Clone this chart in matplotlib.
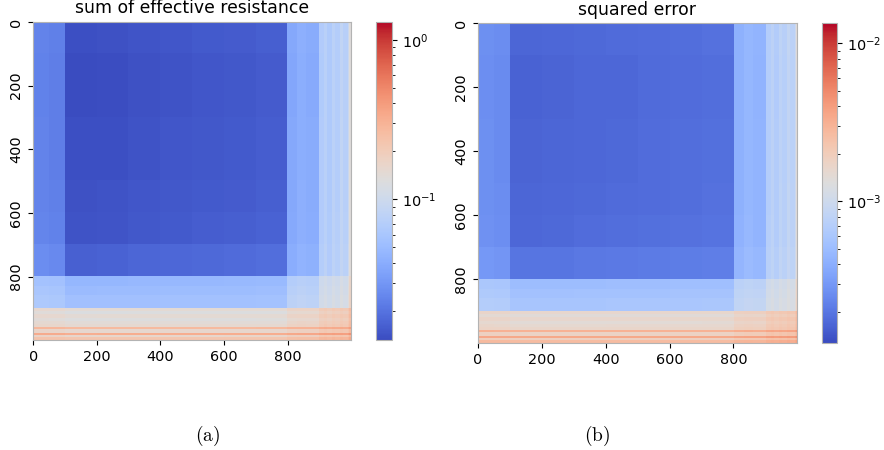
import matplotlib
matplotlib.use("Agg")
import matplotlib.pyplot as plt
import numpy as np
from matplotlib.colors import LogNorm

plt.rcParams['mathtext.fontset'] = 'cm'

# row / column block edges (index) and block values
row_edges = [0, 100, 300, 500, 600, 700, 800, 830, 860, 900, 910, 920, 930, 940, 950,
             960, 966, 978, 985, 992, 1000]
col_edges = [0, 50, 100, 200, 300, 400, 500, 600, 700, 800, 830, 860, 900, 915, 925,
             940, 950, 965, 975, 990, 995, 1000]

# (a) sum of effective resistance
res_rows = [0.0035, 0.003, 0.0033, 0.0036, 0.004, 0.0062, 0.036, 0.040, 0.044,
            0.135, 0.115, 0.135, 0.118, 0.13, 0.14, 0.26, 0.145, 0.31, 0.15, 0.21]
res_cols = [0.0205, 0.0195, 0.0103, 0.0105, 0.011, 0.0113, 0.0117, 0.012, 0.0126,
            0.034, 0.038, 0.036, 0.064, 0.072, 0.062, 0.074, 0.067, 0.080, 0.071,
            0.092, 0.130]
res_lim = [0.0131, 1.30]

# (b) squared error
err_rows = [0.00004, 0.000035, 0.000038, 0.00004, 0.000045, 0.00007, 0.00038,
            0.00042, 0.00046, 0.00145, 0.00125, 0.00145, 0.00128, 0.0014, 0.0015,
            0.0029, 0.0016, 0.0033, 0.0017, 0.0025]
err_cols = [0.00023, 0.00022, 0.000128, 0.00013, 0.000135, 0.000138, 0.000142,
            0.000146, 0.00015, 0.00038, 0.00042, 0.0004, 0.00066, 0.00074, 0.00064,
            0.00076, 0.00069, 0.00082, 0.00073, 0.00095, 0.00135]
err_lim = [0.000127, 0.0134]

titles = ["sum of effective resistance", "squared error"]
captions = ["(a)", "(b)"]


def grid(rows, cols):
    r = np.repeat(rows, np.diff(row_edges))
    c = np.repeat(cols, np.diff(col_edges))
    return r[:, None] + c[None, :]


fig = plt.figure(figsize=(8.84, 4.5), dpi=100)

ax_pos = [[0.0373, 0.2444, 0.3597, 0.7073], [0.5404, 0.2378, 0.3614, 0.7104]]
cb_pos = [[0.4253, 0.2444, 0.0181, 0.7073], [0.9295, 0.2378, 0.0176, 0.7104]]
cap_x = [208 / 884, 597 / 884]

data = [grid(res_rows, res_cols), grid(err_rows, err_cols)]
lims = [res_lim, err_lim]

for i in range(2):
    ax = fig.add_axes(ax_pos[i])
    im = ax.imshow(data[i], cmap='coolwarm', aspect='auto', interpolation='nearest',
                   norm=LogNorm(vmin=lims[i][0], vmax=lims[i][1]))
    ax.set_xticks([0, 200, 400, 600, 800])
    ax.set_yticks([0, 200, 400, 600, 800])
    ax.tick_params(labelsize=10.4)
    plt.setp(ax.get_yticklabels(), rotation=90, va='center')
    for s in ax.spines.values():
        s.set_color('0.7')
    ax.set_title(titles[i], fontsize=12.4)

    cax = fig.add_axes(cb_pos[i])
    cb = fig.colorbar(im, cax=cax)
    cb.outline.set_edgecolor('0.7')
    cb.ax.tick_params(labelsize=10.4)

    fig.text(cap_x[i], 1 - 436 / 450, r'$\mathrm{' + captions[i] + '}$',
             ha='center', va='center', fontsize=14)

plt.savefig("out.png", dpi=100)
